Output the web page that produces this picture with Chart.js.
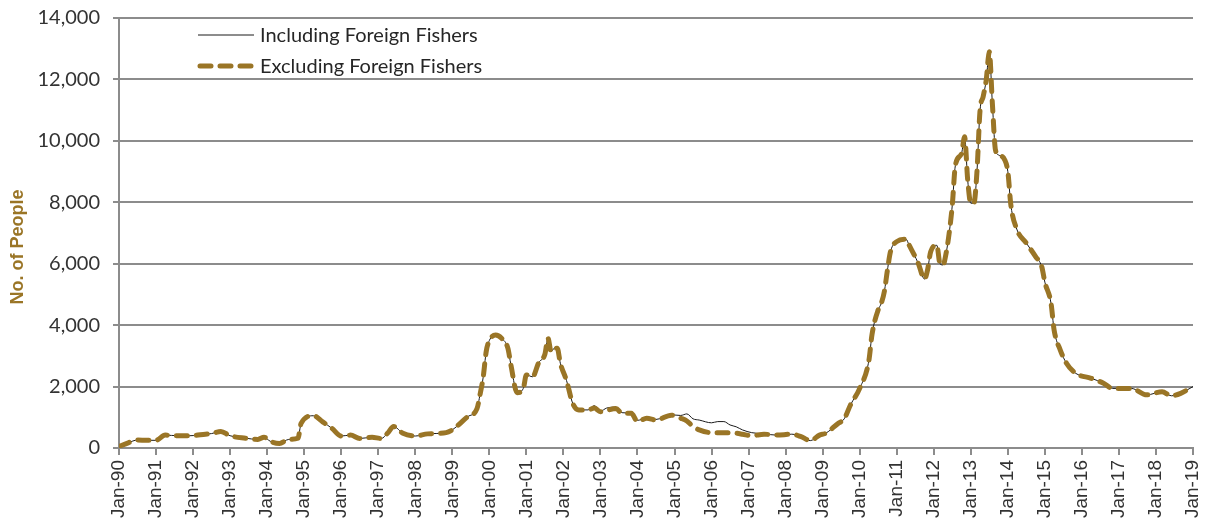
<!DOCTYPE html>
<html>
<head>
<meta charset="utf-8">
<title>No. of People</title>
<script src="https://cdn.jsdelivr.net/npm/chart.js@4.4.1/dist/chart.umd.min.js"></script>
<style>
  html, body { margin: 0; padding: 0; background: #fff; }
  #wrap { position: relative; width: 1208px; height: 532px; }
</style>
</head>
<body>
<div id="wrap"><canvas id="fishers"></canvas></div>
<script>
// ========== DATA ==========
// months counted from Jan-90 (0) to Jan-19 (348)
const months = [
  0, 3, 6, 9, 12, 15, 19, 23, 28, 30, 33, 36, 41, 45, 47, 49, 52, 55, 58, 59,
  63, 66, 69, 72, 75, 78, 82, 85, 87, 89, 92, 96, 100, 106, 108, 113, 116, 117, 118, 119,
  120, 122, 124, 126, 127, 129, 131, 132, 134, 136, 138, 139, 140, 141, 142, 143, 145, 147, 149, 152,
  154, 156, 158, 161, 163, 166, 168, 171, 174, 179, 182, 184, 186, 188, 192, 194, 196, 198, 200, 202,
  205, 209, 213, 218, 221, 224, 227, 229, 233, 235, 237, 240, 243, 244, 246, 247, 248, 249, 250, 252,
  255, 256, 259, 261, 262, 263, 265, 266, 267, 268, 269, 270, 271, 273, 274, 275, 276, 277, 278, 279,
  280, 281, 282, 283, 284, 285, 287, 288, 289, 291, 294, 297, 299, 300, 302, 303, 305, 307, 310, 315,
  319, 322, 328, 333, 338, 341, 344, 348
];

const excluding = [
  50, 170, 260, 250, 250, 420, 400, 400, 450, 470, 540, 400, 320, 280, 350, 220, 150, 280, 320, 800,
  1050, 850, 640, 390, 420, 310, 350, 310, 480, 700, 480, 390, 460, 500, 590, 1020, 1280, 1750, 2300, 3150,
  3500, 3680, 3570, 3250, 2700, 1800, 1940, 2380, 2320, 2780, 3050, 3570, 3140, 3250, 3250, 2760, 2200, 1460, 1240, 1240,
  1300, 1180, 1220, 1290, 1130, 1130, 860, 970, 910, 1070, 970, 880, 700, 590, 500, 500, 500, 490, 480, 450,
  400, 450, 420, 450, 370, 240, 420, 480, 800, 950, 1400, 1940, 2860, 3700, 4500, 4710, 5100, 5800, 6400, 6720,
  6800, 6610, 6010, 5500, 5800, 6390, 6600, 6000, 5960, 6340, 7000, 7900, 9200, 9590, 10130, 8720, 7970, 7970, 9000, 11000,
  11440, 11980, 12900, 11200, 9700, 9540, 9380, 9000, 7900, 7100, 6670, 6230, 5900, 5400, 4710, 3840, 3190, 2760, 2430, 2270,
  2110, 1940, 1940, 1730, 1830, 1700, 1780, 2000
];

const including = [
  50, 170, 260, 250, 250, 420, 400, 400, 450, 470, 540, 400, 320, 280, 350, 220, 150, 280, 320, 800,
  1050, 850, 640, 390, 420, 310, 350, 310, 480, 700, 480, 390, 460, 500, 590, 1020, 1280, 1750, 2300, 3150,
  3500, 3680, 3570, 3250, 2700, 1800, 1940, 2380, 2320, 2780, 3050, 3570, 3140, 3250, 3300, 2760, 2200, 1460, 1240, 1240,
  1380, 1200, 1300, 1330, 1150, 1130, 900, 980, 930, 1080, 1060, 1110, 950, 910, 820, 860, 860, 750, 690, 590,
  500, 460, 420, 450, 370, 240, 420, 480, 800, 950, 1400, 1940, 2860, 3700, 4500, 4710, 5100, 5800, 6400, 6720,
  6800, 6610, 6010, 5500, 5800, 6390, 6600, 6000, 5960, 6340, 7000, 7900, 9200, 9590, 10130, 8720, 7970, 7970, 9000, 11000,
  11440, 11980, 12900, 11200, 9700, 9540, 9380, 9000, 7900, 7100, 6670, 6230, 5900, 5400, 4710, 3840, 3190, 2760, 2430, 2270,
  2110, 1940, 1940, 1730, 1830, 1700, 1780, 2000
];

const yearLabels = [
  'Jan-90', 'Jan-91', 'Jan-92', 'Jan-93', 'Jan-94', 'Jan-95', 'Jan-96', 'Jan-97', 'Jan-98', 'Jan-99',
  'Jan-00', 'Jan-01', 'Jan-02', 'Jan-03', 'Jan-04', 'Jan-05', 'Jan-06', 'Jan-07', 'Jan-08', 'Jan-09',
  'Jan-10', 'Jan-11', 'Jan-12', 'Jan-13', 'Jan-14', 'Jan-15', 'Jan-16', 'Jan-17', 'Jan-18', 'Jan-19'
];
const yTicks = [0, 2000, 4000, 6000, 8000, 10000, 12000, 14000];
const seriesNames = ['Including Foreign Fishers', 'Excluding Foreign Fishers'];
const yTitle = 'No. of People';

// ========== STYLE ==========
const GOLD = '#9A7526';
const GRID = '#8c8c8c';
const PLOT = { left: 119, right: 1193, top: 18, bottom: 448 };

// legend + y title drawn by hand (legend sits inside the plot)
const overlay = {
  id: 'overlay',
  afterDraw(chart) {
    const ctx = chart.ctx;
    ctx.save();
    // y axis title
    ctx.translate(18, 247);
    ctx.rotate(-Math.PI / 2);
    ctx.font = 'bold 18px "Liberation Sans", Arial, sans-serif';
    ctx.fillStyle = GOLD;
    ctx.textAlign = 'center';
    ctx.textBaseline = 'middle';
    ctx.fillText(yTitle, 0, 0);
    ctx.restore();

    ctx.save();
    const rows = [35, 66];
    chart.data.datasets.forEach((ds, i) => {
      const y = rows[i];
      ctx.beginPath();
      ctx.strokeStyle = ds.borderColor;
      ctx.lineWidth = ds.borderWidth;
      ctx.lineCap = ds.borderCapStyle || 'butt';
      ctx.setLineDash(ds.borderDash || []);
      ctx.moveTo(i === 0 ? 198 : 200, y);
      ctx.lineTo(i === 0 ? 254 : 251, y);
      ctx.stroke();
      ctx.setLineDash([]);
      ctx.font = '20px Lato, "Open Sans", sans-serif';
      ctx.fillStyle = '#262626';
      ctx.textAlign = 'left';
      ctx.textBaseline = 'middle';
      ctx.fillText(ds.label, 260, y + 1);
    });
    ctx.restore();
  }
};

const toPoints = vals => vals.map((v, i) => ({ x: months[i], y: v }));

new Chart(document.getElementById('fishers'), {
  type: 'line',
  data: {
    datasets: [
      {
        label: seriesNames[0],
        data: toPoints(including),
        borderColor: '#1a1a1a',
        borderWidth: 1,
        pointRadius: 0,
        cubicInterpolationMode: 'monotone',
        order: 2
      },
      {
        label: seriesNames[1],
        data: toPoints(excluding),
        borderColor: GOLD,
        borderWidth: 5,
        borderDash: [11, 9],
        borderCapStyle: 'round',
        pointRadius: 0,
        cubicInterpolationMode: 'monotone',
        order: 1
      }
    ]
  },
  options: {
    responsive: true,
    maintainAspectRatio: false,
    animation: false,
    layout: { padding: { top: PLOT.top, right: 1208 - PLOT.right, left: 0, bottom: 0 } },
    plugins: { legend: { display: false }, tooltip: { enabled: false } },
    scales: {
      x: {
        type: 'linear',
        min: 0,
        max: 348,
        afterFit: s => {
          s.height = 532 - PLOT.bottom;
          s.paddingLeft = 0;
          s.paddingRight = 0;
        },
        afterBuildTicks: s => { s.ticks = yearLabels.map((_, i) => ({ value: i * 12 })); },
        ticks: {
          autoSkip: false,
          minRotation: 90,
          maxRotation: 90,
          padding: 5,
          color: '#333',
          font: { family: '"Liberation Sans", Arial, sans-serif', size: 19 },
          callback: v => yearLabels[Math.round(v / 12)]
        },
        grid: { drawOnChartArea: false, color: GRID, lineWidth: 2, tickLength: 7 },
        border: { color: GRID, width: 2 }
      },
      y: {
        min: 0,
        max: 14000,
        afterFit: s => {
          s.width = PLOT.left;
          s.paddingTop = 0;
          s.paddingBottom = 0;
        },
        afterBuildTicks: s => { s.ticks = yTicks.map(v => ({ value: v })); },
        ticks: {
          padding: 13,
          color: '#333',
          font: { family: 'Lato, "Open Sans", sans-serif', size: 20 },
          callback: v => v.toLocaleString('en-US')
        },
        grid: { color: GRID, lineWidth: 2, tickLength: 6 },
        border: { color: GRID, width: 2 }
      }
    }
  },
  plugins: [overlay]
});
</script>
</body>
</html>
